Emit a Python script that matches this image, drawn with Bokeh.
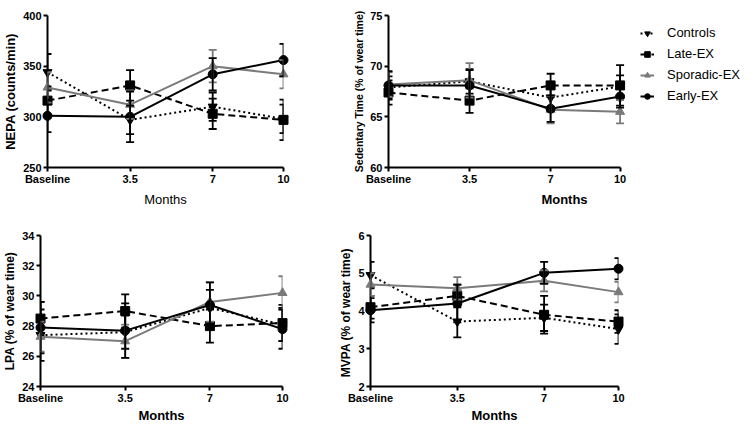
from bokeh.plotting import figure
from bokeh.layouts import column, row
from bokeh.models import (Range1d, FixedTicker, Whisker, TeeHead, ColumnDataSource,
                          Legend, LegendItem)
from bokeh.embed import file_html
from bokeh.resources import INLINE

# ---------------- data ----------------
months = [0, 3.5, 7, 10]
month_labels = ["Baseline", "3.5", "7", "10"]
groups = ["Controls", "Late-EX", "Sporadic-EX", "Early-EX"]

# NEPA (counts/min)
nepa_controls = [344, 297, 310, 298]
nepa_late = [316, 331, 303, 297]
nepa_sporadic = [329, 312, 350, 342]
nepa_early = [301, 300, 342, 356]
nepa_err_controls = [18, 14, 14, 14]
nepa_err_late = [14, 15, 15, 20]
nepa_err_sporadic = [15, 14, 16, 14]
nepa_err_early = [16, 25, 16, 16]

# Sedentary time (% of wear time)
sed_controls = [67.9, 68.5, 66.9, 68.0]
sed_late = [67.4, 66.6, 68.1, 68.1]
sed_sporadic = [68.2, 68.6, 65.7, 65.5]
sed_early = [68.1, 68.1, 65.8, 67.0]
sed_err_controls = [1.1, 1.2, 1.3, 1.1]
sed_err_late = [1.2, 1.2, 1.15, 2.0]
sed_err_sporadic = [1.2, 1.7, 1.35, 1.15]
sed_err_early = [1.4, 1.5, 1.3, 1.1]

# LPA (% of wear time)
lpa_controls = [27.4, 27.6, 29.2, 28.1]
lpa_late = [28.5, 29.0, 28.0, 28.2]
lpa_sporadic = [27.3, 27.0, 29.6, 30.2]
lpa_early = [27.9, 27.7, 29.4, 27.8]
lpa_err_controls = [1.7, 1.1, 1.2, 1.1]
lpa_err_late = [1.1, 1.1, 1.1, 1.2]
lpa_err_sporadic = [1.0, 1.1, 1.3, 1.1]
lpa_err_early = [1.7, 1.8, 1.5, 1.3]

# MVPA (% of wear time)
mvpa_controls = [4.95, 3.72, 3.82, 3.52]
mvpa_late = [4.1, 4.4, 3.9, 3.72]
mvpa_sporadic = [4.7, 4.6, 4.8, 4.5]
mvpa_early = [4.02, 4.2, 5.01, 5.12]
mvpa_err_controls = [0.35, 0.42, 0.35, 0.39]
mvpa_err_late = [0.3, 0.3, 0.5, 0.3]
mvpa_err_sporadic = [0.3, 0.3, 0.28, 0.27]
mvpa_err_early = [0.32, 0.5, 0.29, 0.28]

FONT = "Liberation Sans"
GREY = "#7a7a7a"
styles = {
    "Controls": dict(color="black", dash="2 3", marker="inverted_triangle", size=9),
    "Late-EX": dict(color="black", dash="7 4", marker="square", size=9),
    "Sporadic-EX": dict(color=GREY, dash="solid", marker="triangle", size=9),
    "Early-EX": dict(color="black", dash="solid", marker="circle", size=9),
}


def panel(width, height, borders, yrange, yticks, ylabel, ylabel_size,
          xlabel_bold, xlabel_standoff, xend, series):
    lb, rb, tb, bb = borders
    p = figure(width=width, height=height, output_backend="svg", toolbar_location=None,
               x_range=Range1d(0, xend), y_range=Range1d(*yrange),
               min_border_left=lb, min_border_right=rb,
               min_border_top=tb, min_border_bottom=bb)
    p.grid.visible = False
    p.outline_line_color = None
    xa = p.xaxis[0]
    ya = p.yaxis[0]
    xa.ticker = FixedTicker(ticks=months)
    xa.major_label_overrides = {m: l for m, l in zip(months, month_labels)}
    xa.bounds = (months[0], months[-1])
    ya.ticker = FixedTicker(ticks=yticks)
    for ax in (xa, ya):
        ax.axis_line_width = 2
        ax.axis_line_color = "black"
        ax.major_tick_line_width = 2
        ax.major_tick_line_color = "black"
        ax.major_tick_out = 4
        ax.major_tick_in = 0
        ax.minor_tick_line_color = None
        ax.major_label_text_font = FONT
        ax.major_label_text_font_style = "bold"
        ax.major_label_text_font_size = "11px"
        ax.major_label_text_color = "black"
        ax.major_label_standoff = 2
        ax.axis_label_text_font = FONT
        ax.axis_label_text_color = "black"
    xa.major_label_standoff = 1
    xa.axis_label = "Months"
    xa.axis_label_text_font_size = "13px"
    xa.axis_label_text_font_style = "bold" if xlabel_bold else "normal"
    xa.axis_label_standoff = xlabel_standoff
    ya.axis_label = ylabel
    ya.axis_label_text_font_size = ylabel_size
    ya.axis_label_text_font_style = "bold"
    ya.axis_label_standoff = 2

    items = []
    for g, (vals, errs) in zip(groups, series):
        st = styles[g]
        src = ColumnDataSource(dict(x=months, y=vals,
                                    upper=[v + e for v, e in zip(vals, errs)],
                                    lower=[v - e for v, e in zip(vals, errs)]))
        lr = p.line("x", "y", source=src, line_color=st["color"], line_width=2,
                    line_dash=st["dash"])
        w = Whisker(base="x", upper="upper", lower="lower", source=src, dimension="height",
                    line_color=st["color"], line_width=1.8, level="overlay",
                    upper_head=TeeHead(size=8, line_color=st["color"], line_width=1.8),
                    lower_head=TeeHead(size=8, line_color=st["color"], line_width=1.8))
        p.add_layout(w)
        sr = p.scatter("x", "y", source=src, marker=st["marker"], size=st["size"],
                       fill_color=st["color"], line_color=st["color"], level="overlay")
        items.append(LegendItem(label=g, renderers=[lr, sr]))
    return p, items


p1, _ = panel(350, 210, (40, 67, 15, 43), (250, 400), [250, 300, 350, 400],
              "NEPA (counts/min)", "13px", False, 4, 10,
              [(nepa_controls, nepa_err_controls), (nepa_late, nepa_err_late),
               (nepa_sporadic, nepa_err_sporadic), (nepa_early, nepa_err_early)])

p2, items = panel(390, 210, (34, 0, 15, 43), (60, 75), [60, 65, 70, 75],
                  "Sedentary Time (% of wear time)", "10.5px", True, 4, 15.2,
                  [(sed_controls, sed_err_controls), (sed_late, sed_err_late),
                   (sed_sporadic, sed_err_sporadic), (sed_early, sed_err_early)])
legend = Legend(items=items, location=(252, 64), padding=0, margin=0,
                border_line_color=None, background_fill_alpha=0,
                glyph_width=14, glyph_height=14, label_height=14, spacing=6,
                label_standoff=13, label_text_font=FONT, label_text_font_size="13px",
                label_text_color="black")
p2.add_layout(legend)

p3, _ = panel(336, 215, (36, 54, 25, 39), (24, 34), [24, 26, 28, 30, 32, 34],
              "LPA (% of wear time)", "12px", True, 1, 10,
              [(lpa_controls, lpa_err_controls), (lpa_late, lpa_err_late),
               (lpa_sporadic, lpa_err_sporadic), (lpa_early, lpa_err_early)])

p4, _ = panel(404, 215, (30, 122, 25, 39), (2, 6), [2, 3, 4, 5, 6],
              "MVPA  (% of wear time)", "12px", True, 1, 10,
              [(mvpa_controls, mvpa_err_controls), (mvpa_late, mvpa_err_late),
               (mvpa_sporadic, mvpa_err_sporadic), (mvpa_early, mvpa_err_early)])

layout = column(row(p1, p2), row(p3, p4))
open("out.html", "w").write(file_html(layout, INLINE))
